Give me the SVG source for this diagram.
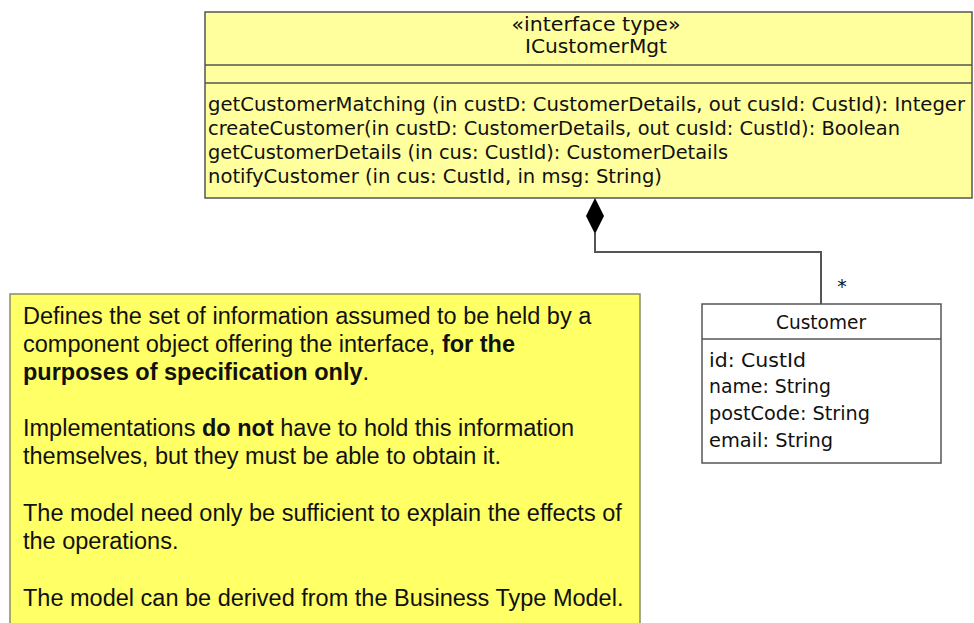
<svg xmlns="http://www.w3.org/2000/svg" width="974" height="623" viewBox="0 0 974 623">
<style>
.uml{font-family:"DejaVu Sans","Liberation Sans",sans-serif;font-size:19px;fill:#111}
.note{font-family:"Liberation Sans",Arial,sans-serif;font-size:23.5px;fill:#111}
.b{font-weight:bold}
.box{stroke:#555;stroke-width:1.5}
.conn{fill:none;stroke:#555;stroke-width:2}
</style>
<rect width="974" height="623" fill="#fff"/>
<g id="ICustomerMgt">
<rect class="box" x="205" y="12" width="767" height="186" fill="#FFFF9E"/>
<line class="box" x1="205" y1="65" x2="972" y2="65"/>
<line class="box" x1="205" y1="83" x2="972" y2="83"/>
<text class="uml" x="596" y="31" text-anchor="middle" textLength="169" lengthAdjust="spacingAndGlyphs">«interface type»</text>
<text class="uml" x="596" y="53" text-anchor="middle" textLength="142" lengthAdjust="spacingAndGlyphs">ICustomerMgt</text>
<text class="uml" x="208" y="111" textLength="757" lengthAdjust="spacingAndGlyphs">getCustomerMatching (in custD: CustomerDetails, out cusId: CustId): Integer</text>
<text class="uml" x="208" y="135" textLength="692" lengthAdjust="spacingAndGlyphs">createCustomer(in custD: CustomerDetails, out cusId: CustId): Boolean</text>
<text class="uml" x="208" y="159" textLength="520" lengthAdjust="spacingAndGlyphs">getCustomerDetails (in cus: CustId): CustomerDetails</text>
<text class="uml" x="208" y="183" textLength="454" lengthAdjust="spacingAndGlyphs">notifyCustomer (in cus: CustId, in msg: String)</text>
</g>
<g id="connectors">
<path class="conn" d="M595,233 V252 H821 V304"/>
<polygon points="595,198 604,216 595,234 586,216" fill="#000"/>
<text class="uml" x="842" y="293" text-anchor="middle" font-size="22">*</text>
</g>
<g id="Customer">
<rect class="box" x="702" y="304" width="239" height="159" fill="#fff"/>
<line class="box" x1="702" y1="339" x2="941" y2="339"/>
<text class="uml" x="821" y="329" text-anchor="middle" textLength="90" lengthAdjust="spacingAndGlyphs">Customer</text>
<text class="uml" x="709" y="367" textLength="97" lengthAdjust="spacingAndGlyphs">id: CustId</text>
<text class="uml" x="709" y="393" textLength="122" lengthAdjust="spacingAndGlyphs">name: String</text>
<text class="uml" x="709" y="420" textLength="161" lengthAdjust="spacingAndGlyphs">postCode: String</text>
<text class="uml" x="709" y="447" textLength="124" lengthAdjust="spacingAndGlyphs">email: String</text>
</g>
<g id="note">
<rect x="10" y="294" width="630" height="330" fill="#FFFF66" stroke="#8a8a6a" stroke-width="1.5"/>
<text class="note" x="23" y="324">Defines the set of information assumed to be held by a</text>
<text class="note" x="23" y="352">component object offering the interface, <tspan class="b">for the</tspan></text>
<text class="note" x="23" y="380"><tspan class="b">purposes of specification only</tspan>.</text>
<text class="note" x="23" y="436">Implementations <tspan class="b">do not</tspan> have to hold this information</text>
<text class="note" x="23" y="464">themselves, but they must be able to obtain it.</text>
<text class="note" x="23" y="521">The model need only be sufficient to explain the effects of</text>
<text class="note" x="23" y="549">the operations.</text>
<text class="note" x="23" y="606">The model can be derived from the Business Type Model.</text>
</g>
</svg>
